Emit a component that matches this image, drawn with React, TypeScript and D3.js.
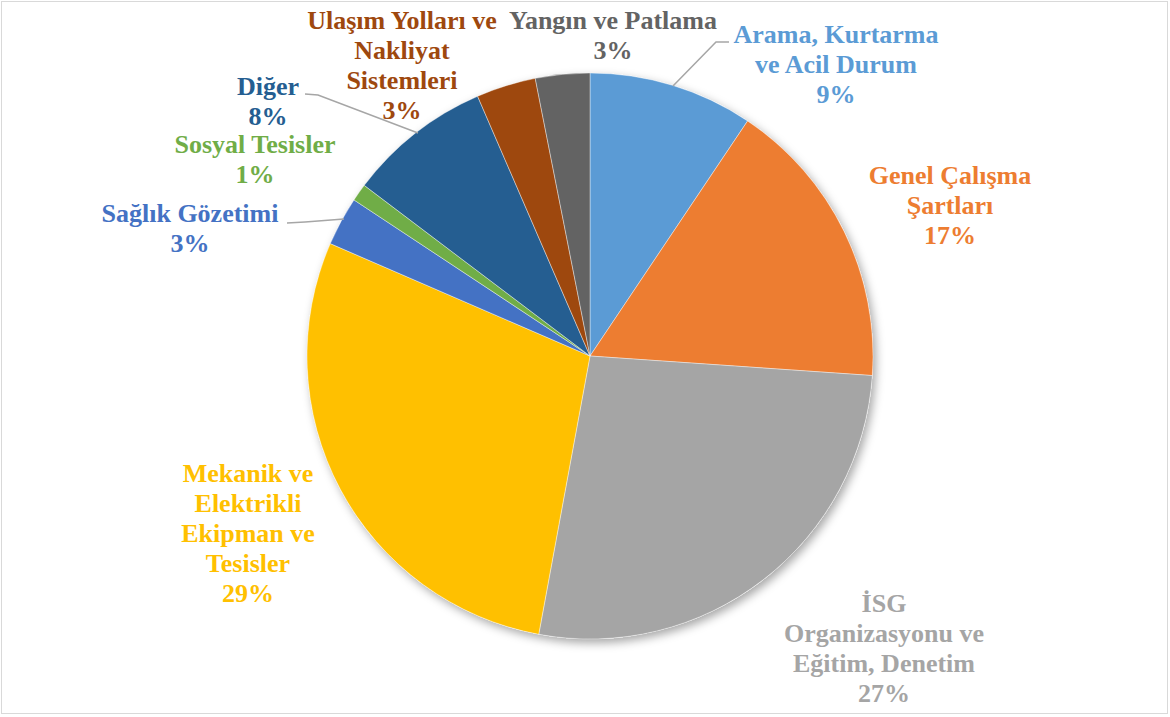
import React from "react";
import * as d3 from "d3";

// ---- data ----
const categories = [
  "Arama, Kurtarma ve Acil Durum",
  "Genel Çalışma Şartları",
  "İSG Organizasyonu ve Eğitim, Denetim",
  "Mekanik ve Elektrikli Ekipman ve Tesisler",
  "Sağlık Gözetimi",
  "Sosyal Tesisler",
  "Diğer",
  "Ulaşım Yolları ve Nakliyat Sistemleri",
  "Yangın ve Patlama",
];
const values = [9.4, 16.7, 26.8, 28.6, 2.8, 1.0, 8.2, 3.4, 3.1];
const labelLines = [
  ["Arama, Kurtarma", "ve Acil Durum"],
  ["Genel Çalışma", "Şartları"],
  ["İSG", "Organizasyonu ve", "Eğitim, Denetim"],
  ["Mekanik ve", "Elektrikli", "Ekipman ve", "Tesisler"],
  ["Sağlık Gözetimi"],
  ["Sosyal Tesisler"],
  ["Diğer"],
  ["Ulaşım Yolları ve", "Nakliyat", "Sistemleri"],
  ["Yangın ve Patlama"],
];
const colors = [
  "#5B9BD5",
  "#ED7D31",
  "#A5A5A5",
  "#FFC000",
  "#4472C4",
  "#70AD47",
  "#255E91",
  "#9E480E",
  "#636363",
];

// ---- layout ----
const W = 1170;
const H = 717;
const CX = 590;
const CY = 356;
const R = 283;
const LINE_H = 30;
const FONT = "Liberation Serif, DejaVu Serif, serif";
// label anchor: center x, first baseline y
const labelPos: [number, number][] = [
  [836, 43],
  [950, 184],
  [884, 612],
  [248, 482],
  [190, 222],
  [255, 153],
  [268, 95],
  [402, 29],
  [613, 29],
];
// leader lines (index -> polyline)
const leaders: { i: number; pts: [number, number][] }[] = [
  { i: 0, pts: [[729, 42], [716, 42], [673, 86]] },
  { i: 6, pts: [[305, 94], [318, 95], [418, 133]] },
  { i: 4, pts: [[287, 223], [305, 222], [344, 219]] },
];

export default function App() {
  const total = d3.sum(values);
  const pie = d3
    .pie<number>()
    .sort(null)
    .value((d) => d)
    .startAngle(0)
    .endAngle(2 * Math.PI);
  const arcs = pie(values);
  const arc = d3.arc<d3.PieArcDatum<number>>().innerRadius(0).outerRadius(R);
  const line = d3.line();

  return (
    <div style={{ position: "absolute", left: 0, top: 0, width: W, height: H, background: "#fff" }}>
      <svg width={W} height={H} style={{ display: "block" }}>
        <defs>
          <filter id="sh" x="-20%" y="-20%" width="140%" height="140%">
            <feDropShadow dx="3" dy="4" stdDeviation="5" floodColor="#000" floodOpacity="0.35" />
          </filter>
        </defs>
        <rect x={1.5} y={1.5} width={W - 4} height={H - 5} fill="#fff" stroke="#D9D9D9" strokeWidth={1} />
        <g transform={`translate(${CX},${CY})`}>
          <circle r={R} fill="#fff" filter="url(#sh)" />
          {arcs.map((a, i) => (
            <path key={i} d={arc(a) || ""} fill={colors[i]} stroke="#fff" strokeWidth={0.4} />
          ))}
        </g>
        {leaders.map((l, k) => (
          <path key={k} d={line(l.pts) || ""} fill="none" stroke="#A6A6A6" strokeWidth={1.5} />
        ))}
        {categories.map((c, i) => {
          const lines = [...labelLines[i], `${Math.round((values[i] / total) * 100)}%`];
          const [x, y] = labelPos[i];
          return (
            <text
              key={c}
              x={x}
              y={y}
              fill={colors[i]}
              fontFamily={FONT}
              fontWeight="bold"
              fontSize={26}
              textAnchor="middle"
            >
              {lines.map((t, j) => (
                <tspan key={j} x={x} y={y + j * LINE_H}>
                  {t}
                </tspan>
              ))}
            </text>
          );
        })}
      </svg>
    </div>
  );
}
